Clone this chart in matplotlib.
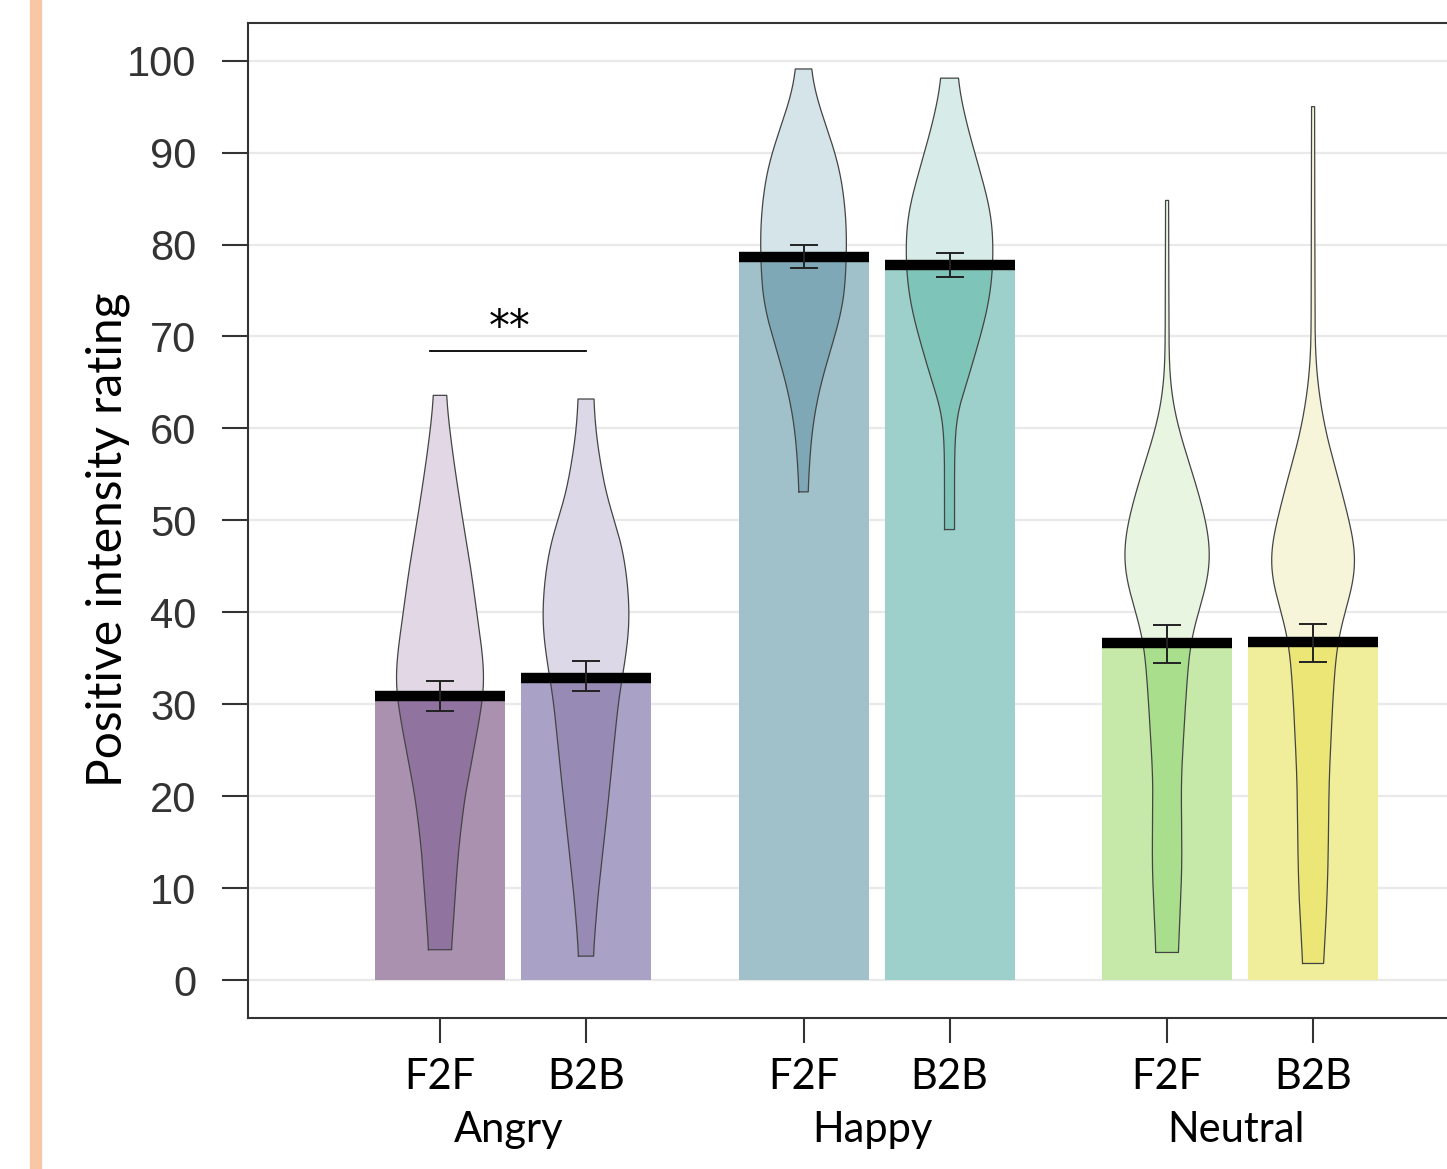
import numpy as np
import matplotlib.pyplot as plt
from matplotlib.patches import Rectangle

groups = ['Angry', 'Happy', 'Neutral']
conds = ['F2F', 'B2B']
means = [30.9, 32.9, 78.7, 77.8, 36.7, 36.8]
err_lo = [29.3, 31.4, 77.5, 76.5, 34.5, 34.6]
err_hi = [32.5, 34.7, 79.9, 79.1, 38.6, 38.7]

# violin outlines: rating level and relative half width
vio_y = [
    [3.3, 7.2, 13.7, 20.2, 24.5, 28.8, 31.9, 35.3, 39.7, 44.0, 50.5, 57.0, 61.4, 63.6],
    [2.6, 9.3, 18.0, 24.5, 31.0, 34.5, 38.8, 43.1, 47.5, 52.7, 59.2, 63.2],
    [53.1, 55.8, 59.5, 63.1, 66.7, 70.4, 74.0, 77.6, 81.3, 84.9, 88.5, 92.2, 95.8, 99.1],
    [49.0, 57.6, 62.0, 64.9, 68.5, 72.2, 75.8, 79.5, 83.1, 86.7, 90.4, 94.0, 98.1],
    [3.0, 7.4, 12.4, 21.8, 31.1, 36.8, 40.5, 43.6, 46.8, 50.0, 54.3, 59.3, 63.0, 66.8, 84.8],
    [1.8, 6.2, 12.4, 21.8, 31.1, 36.8, 40.5, 43.6, 46.8, 50.0, 54.3, 59.3, 64.3, 68.6, 95.0],
]
vio_w = [
    [11, 14, 18, 25, 33, 40, 45, 43, 37, 32, 22, 13, 8, 6],
    [7, 12, 21, 27, 33, 39, 44, 42, 36, 20, 10, 7.5],
    [4.3, 5.7, 8, 13.3, 21.7, 32.5, 41, 42.5, 43.5, 41, 36, 25, 13, 6.7],
    [5, 5, 7, 17.5, 26.7, 36.7, 42.5, 44, 42.5, 34, 24, 15, 7.5],
    [11, 13, 15, 14, 19, 23, 32.5, 41.7, 44, 39, 28, 13, 5, 2, 1.5],
    [10, 13, 15, 16, 20, 24, 33, 42, 43, 36, 26, 13, 5, 2, 1.5],
]

bar_colors = ['#aa91b0', '#a9a1c6', '#a0c0ca', '#9dd0cb', '#c6e8a8', '#f0ee9a']
vio_light = ['#e2d8e5', '#dcd8e8', '#d4e4e8', '#d7ebe8', '#e8f5e1', '#f6f5d9']
vio_dark = ['#9173a0', '#978ab4', '#7fa8b6', '#7ec4b9', '#a9de8c', '#ebe676']

pos = []
for g in range(len(groups)):
    for c in range(len(conds)):
        pos.append(g * 2.49 + c)
pos = np.array(pos)

fig = plt.figure(figsize=(14.47, 11.69), dpi=100)
fig.patches.append(Rectangle((30 / 1447, 0), 11 / 1447, 1, transform=fig.transFigure,
                             color='#f7c7a6', zorder=0))
ax = fig.add_axes([248 / 1447, 151 / 1169, 1.06 - 248 / 1447, 995 / 1169])

px_unit = 146.0
bw = 130 / px_unit
vscale = 1 / px_unit

for i, x in enumerate(pos):
    ys = np.array(vio_y[i])
    ws = np.array(vio_w[i]) * vscale
    yy = np.arange(ys[0], ys[-1] + 0.05, 0.1)
    ww = np.interp(yy, ys, ws)
    # round off the hand-read outline (sigma ~2 rating points)
    kx = np.arange(-60, 61)
    kern = np.exp(-0.5 * (kx / 20.0) ** 2)
    kern /= kern.sum()
    ww = np.convolve(np.pad(ww, 60, mode='edge'), kern, mode='valid')
    vx = np.concatenate([x - ww, (x + ww)[::-1], [x - ww[0]]])
    vy = np.concatenate([yy, yy[::-1], [yy[0]]])
    ax.fill(vx, vy, color=vio_light[i], lw=0, zorder=2)
    bar = ax.bar(x, means[i], width=bw, color=bar_colors[i], zorder=3)[0]
    dk = ax.fill(vx, vy, color=vio_dark[i], lw=0, zorder=4)[0]
    dk.set_clip_path(bar)
    ax.plot(vx, vy, color='#444444', lw=0.9, zorder=5)
    ax.hlines(means[i], x - bw / 2, x + bw / 2, color='black', lw=7.5, zorder=6)
    ax.errorbar(x, means[i], yerr=[[means[i] - err_lo[i]], [err_hi[i] - means[i]]],
                fmt='none', ecolor='#222222', elinewidth=1.4, capsize=10, capthick=1.4, zorder=7)

# significance bracket
ax.plot([pos[0] - 0.07, pos[1]], [68.4, 68.4], color='black', lw=1.3, zorder=8)
ax.text((pos[0] + pos[1]) / 2 - 0.02, 70.9, '**', ha='center', va='center', fontsize=30,
        family='DejaVu Sans', color='black')

ax.set_xlim((248 - 440) / px_unit, (1.06 * 1447 - 440) / px_unit)
ax.set_ylim(-4.13, 104.1)
ax.set_yticks(range(0, 101, 10))
ax.yaxis.grid(True, color='#e9e9e9', lw=1.6, zorder=0)
ax.set_axisbelow(True)
for lab in ax.get_yticklabels():
    lab.set_family('Liberation Sans')
ax.tick_params(axis='y', length=19, width=1.5, color='#333333', labelsize=30,
               labelcolor='#333333', pad=18)
ax.set_xticks(pos)
ax.set_xticklabels(conds * len(groups), family='Lato', fontsize=30)
ax.tick_params(axis='x', length=18, width=1.5, color='#333333', pad=11)

for g, name in enumerate(groups):
    xc = (pos[2 * g] + pos[2 * g + 1]) / 2
    ax.text(xc - 0.03, -0.1126, name, transform=ax.get_xaxis_transform(), ha='center',
            va='center', family='Lato', fontsize=30)

for s in ['left', 'top', 'bottom']:
    ax.spines[s].set_color('#333333')
    ax.spines[s].set_linewidth(1.5)
ax.spines['right'].set_visible(False)

fig.text(108 / 1447, 1 - 540 / 1169, 'Positive intensity rating', rotation=90,
         ha='center', va='center', family='Lato', fontsize=34.5)

fig.savefig('out.png', dpi=100)
